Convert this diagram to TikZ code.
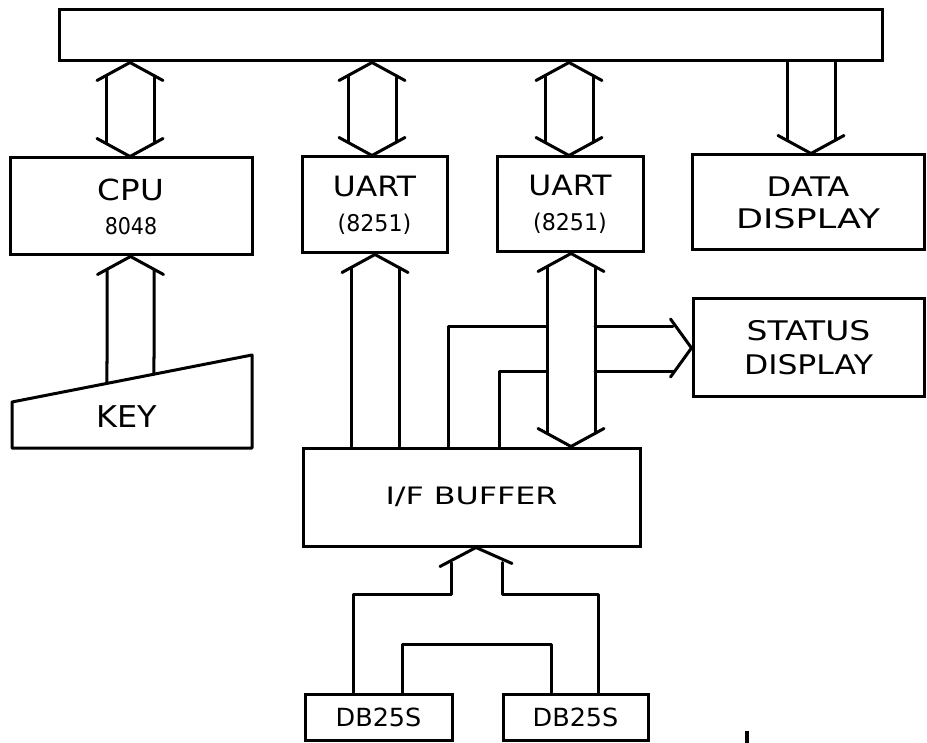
\documentclass[tikz,border=0pt]{standalone}
\usepackage{fontspec}
\usepackage{graphicx}
\usetikzlibrary{calc}
\newfontfamily\lab[FakeStretch=1.12]{DejaVu Sans}
\newcommand\fs[2]{\fontsize{#1}{#2}\selectfont}
\newcommand\sx[2]{\scalebox{#1}[1]{#2}}
\tikzset{
  wire/.style={line width=3pt, line cap=round, line join=round},
  box/.style={draw, line width=3pt, inner sep=0pt, align=center},
}
% vertical wide arrow: #1 x, #2 top anchor, #3 bottom anchor, #4 head on top, #5 head on bottom
\newcommand\vfat[5]{%
  \coordinate (T) at (#1,0 |- #2);
  \coordinate (B) at (#1,0 |- #3);
  \ifnum#4=1
    \draw[wire] ($(T)+(-33,18)$) -- (T) -- ($(T)+(33,18)$);
    \coordinate (T1) at ($(T)+(0,13)$);
  \else
    \coordinate (T1) at (T);
  \fi
  \ifnum#5=1
    \draw[wire] ($(B)+(-33,-18)$) -- (B) -- ($(B)+(33,-18)$);
    \coordinate (B1) at ($(B)+(0,-13)$);
  \else
    \coordinate (B1) at (B);
  \fi
  \draw[wire] ($(T1)+(-24,0)$) -- ($(B1)+(-24,0)$);
  \draw[wire] ($(T1)+(24,0)$) -- ($(B1)+(24,0)$);
}
\begin{document}
\begin{tikzpicture}[x=1pt,y=-1pt]
\useasboundingbox (0,0) rectangle (927,743);
\fill[white] (0,0) rectangle (927,743);

% boxes
\node[box, minimum width=823, minimum height=51] (bus) at (470.5,35.5) {};
\node[box, minimum width=242, minimum height=97, font=\lab\fs{29}{34}] (cpu) at (131,206.5)
  {CPU\\\fs{23}{34}\sx{0.8}{8048}};
\node[box, minimum width=145, minimum height=96, font=\lab\fs{28}{35}] (uart1) at (374.5,205)
  {UART\\\fs{23}{35}\sx{0.86}{(8251)}};
\node[box, minimum width=146, minimum height=95, font=\lab\fs{28}{35}] (uart2) at (570,204.5)
  {UART\\\fs{23}{35}\sx{0.86}{(8251)}};
\node[box, minimum width=232, minimum height=95, font=\lab\fs{27}{32}] (data) at (808,202.5)
  {\sx{1.06}{DATA}\\\sx{1.16}{DISPLAY}};
\node[box, minimum width=231, minimum height=98, font=\lab\fs{27}{34}] (status) at (808.5,348)
  {\sx{1.09}{STATUS}\\\sx{1.04}{DISPLAY}};
\node[box, minimum width=337, minimum height=98, font=\lab\fs{24}{28}] (ifb) at (471.5,497)
  {\sx{1.18}{I/F BUFFER}};
\node[box, minimum width=147, minimum height=46, font=\lab\fs{25}{28}] (db1) at (378.5,717)
  {\sx{0.91}{DB25S}};
\node[box, minimum width=145, minimum height=46, font=\lab\fs{25}{28}] (db2) at (575.5,717)
  {\sx{0.91}{DB25S}};

% keyboard
\coordinate (kTL) at (12,402);
\coordinate (kTR) at (252,355);
\coordinate (kBR) at (252,448);
\coordinate (kBL) at (12,448);
\draw[wire] (kTL) -- (kTR) -- (kBR) -- (kBL) -- cycle;
\node[font=\lab\fs{30}{34}] (key) at (127,417) {\sx{0.95}{KEY}};

% bus arrows
\vfat{130}{bus.south}{cpu.north}{1}{1}
\vfat{372}{bus.south}{uart1.north}{1}{1}
\vfat{569}{bus.south}{uart2.north}{1}{1}
\vfat{811}{bus.south}{data.north}{0}{1}

% key -> cpu
\coordinate (kT) at (130.5,0 |- cpu.south);
\draw[wire] ($(kT)+(-33,18)$) -- (kT) -- ($(kT)+(33,18)$);
\draw[wire] ($(kT)+(-23.5,13)$) -- ($(kTL)!{(107-12)/240}!(kTR)$);
\draw[wire] ($(kT)+(23.5,13)$) -- ($(kTL)!{(154-12)/240}!(kTR)$);

% ifb -> uart1
\vfat{375}{uart1.south}{ifb.north}{1}{0}
% uart2 <-> ifb
\vfat{571}{uart2.south}{ifb.north}{1}{1}

% ifb -> status
\coordinate (sT) at (status.west);
\draw[wire] (448,0 |- ifb.north) |- (547,327);
\draw[wire] (595,327) -- (673,327);
\draw[wire] (499,0 |- ifb.north) |- (547,372);
\draw[wire] (595,372) -- (673,372);
\draw[wire] ($(sT)+(-21,-29)$) -- (sT) -- ($(sT)+(-21,29)$);

% db25s -> ifb
\coordinate (dT) at (476,0 |- ifb.south);
\draw[wire] ($(dT)+(-36,19)$) -- (dT) -- ($(dT)+(36,16)$);
\draw[wire] ($(dT)+(-25,15)$) |- (353,594) -- (353,0 |- db1.north);
\draw[wire] ($(dT)+(26,15)$) |- (598,594) -- (598,0 |- db2.north);
\draw[wire] (402,0 |- db1.north) |- (551,644) -- (551,0 |- db2.north);

% stray mark
\draw[line width=4pt] (747,731) -- (747,743);
\end{tikzpicture}
\end{document}
